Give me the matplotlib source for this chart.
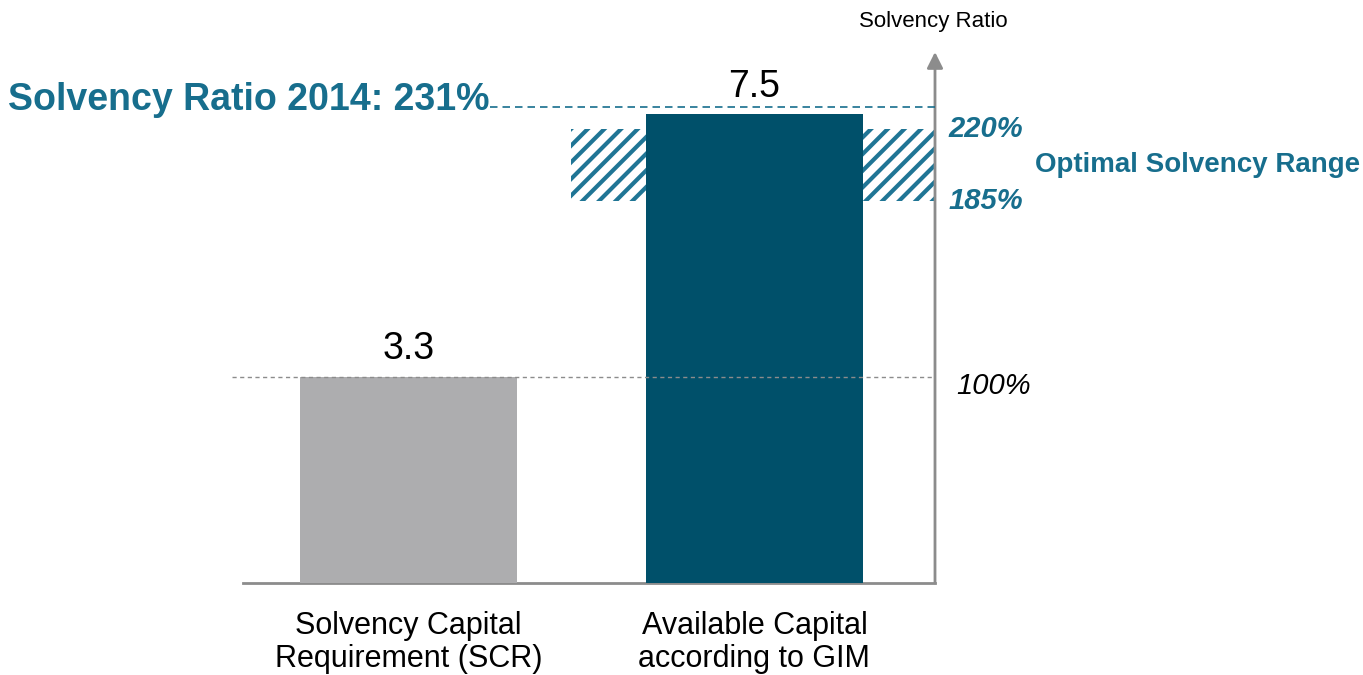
import matplotlib
matplotlib.use("Agg")
import matplotlib.pyplot as plt
from matplotlib.patches import Rectangle

# ── Data ──────────────────────────────────────────────────────────────────────
categories = ["Solvency Capital\nRequirement (SCR)", "Available Capital\naccording to GIM"]
values = [3.3, 7.5]
solvency_ratio = 2.31          # 231 %
optimal_range = [1.85, 2.20]   # 185 % .. 220 %
base_ratio = 1.00              # 100 %

# ── Style ─────────────────────────────────────────────────────────────────────
TEAL_BAR = "#00506A"
TEAL_TXT = "#176E8D"
TEAL_HATCH = "#1F7595"
GREY_BAR = "#ADADAF"
AXIS_GREY = "#8C8C8C"

plt.rcParams["font.family"] = ["Liberation Sans", "DejaVu Sans"]
plt.rcParams["hatch.linewidth"] = 3.0

W, H = 1363, 675
fig = plt.figure(figsize=(W / 100, H / 100), dpi=100)

# axes placed in pixel terms: baseline at y=583, from x=243 to x=935
ax_left, ax_right, ax_bottom, ax_top = 243, 935, 583, 52
ax = fig.add_axes([ax_left / W, (H - ax_bottom) / H,
                   (ax_right - ax_left) / W, (ax_bottom - ax_top) / H])

px_per_unit = 62.5
ymax = (ax_bottom - ax_top) / px_per_unit
xmin, xmax = -0.478, 1.522
ax.set_xlim(xmin, xmax)
ax.set_ylim(0, ymax)

scr = values[0]
colors = [GREY_BAR, TEAL_BAR]
ax.bar(range(len(values)), values, width=0.627, color=colors, zorder=3)

# value labels
for i, v in enumerate(values):
    ax.text(i, v + 0.15, f"{v}", ha="center", va="bottom", fontsize=27, color="black")

# optimal range hatch band (behind the teal bar)
lo, hi = optimal_range[0] * scr, optimal_range[1] * scr
band = Rectangle((0.47, lo), xmax - 0.47, hi - lo, facecolor="white",
                 edgecolor=TEAL_HATCH, hatch="//", linewidth=0, zorder=2)
ax.add_patch(band)

# 100 % line
ax.plot([-0.51, xmax], [base_ratio * scr] * 2, color=AXIS_GREY, lw=1.0,
        dashes=(3, 2.5), zorder=4, clip_on=False)

# 231 % line
ratio_y = solvency_ratio * scr
ax.plot([0.2355, xmax], [ratio_y] * 2, color=TEAL_TXT, lw=1.2,
        dashes=(4.5, 3), zorder=4, clip_on=False)
ax.text(0.2355, ratio_y - 0.05, f"Solvency Ratio 2014: {solvency_ratio * 100:.0f}%",
        ha="right", va="baseline", fontsize=27, fontweight="bold", color=TEAL_TXT,
        clip_on=False)

# right-hand labels
tx = xmax + 0.04
ax.text(tx, hi, f"{optimal_range[1] * 100:.0f}%", ha="left", va="center",
        fontsize=21, fontweight="bold", fontstyle="italic", color=TEAL_TXT)
ax.text(tx, lo, f"{optimal_range[0] * 100:.0f}%", ha="left", va="center",
        fontsize=21, fontweight="bold", fontstyle="italic", color=TEAL_TXT)
ax.text(tx + 0.25, (lo + hi) / 2, "Optimal Solvency Range", ha="left", va="center",
        fontsize=20, fontweight="bold", color=TEAL_TXT)
ax.text(tx + 0.02, base_ratio * scr - 0.15, f"{base_ratio * 100:.0f}%", ha="left",
        va="center", fontsize=21, fontstyle="italic", color="black")

# vertical axis with arrow
ax.annotate("", xy=(xmax, ymax), xytext=(xmax, 0),
            arrowprops=dict(arrowstyle="-|>", color=AXIS_GREY, lw=2,
                            mutation_scale=24, shrinkA=0, shrinkB=0),
            annotation_clip=False)
fig.text(933 / W, 1 - 22 / H, "Solvency Ratio", ha="center", va="center",
         fontsize=16, color="black")

# axes cosmetics
for side in ["left", "right", "top"]:
    ax.spines[side].set_visible(False)
ax.spines["bottom"].set_color(AXIS_GREY)
ax.spines["bottom"].set_linewidth(2)
ax.set_yticks([])
ax.set_xticks(range(len(categories)))
ax.set_xticklabels(categories, fontsize=22, linespacing=1.15)
ax.tick_params(axis="x", length=0, pad=20)

fig.savefig("out.png", dpi=100)
